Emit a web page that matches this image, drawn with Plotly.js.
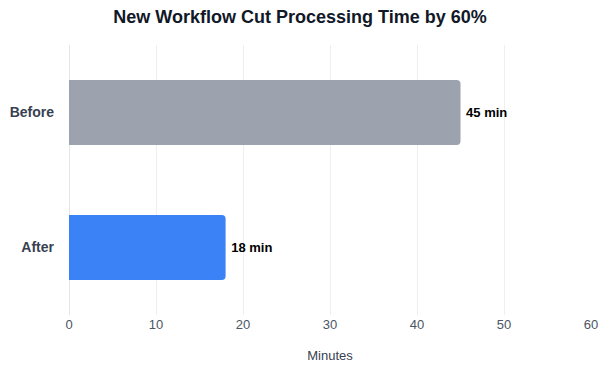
<!DOCTYPE html>
<html>
<head>
<meta charset="utf-8">
<script src="https://cdn.plot.ly/plotly-3.0.1.min.js"></script>
<style>html,body{margin:0;padding:0;background:#fff;}#chart{width:600px;height:380px;}</style>
</head>
<body>
<div id="chart"></div>
<script>
const categories = ["Before", "After"];
const minutes = [45, 18];
const labels = ["45 min", "18 min"];
const colors = ["#9CA3AF", "#3B82F6"];
const xTicks = [0, 10, 20, 30, 40, 50, 60];

const trace = {
  type: "bar",
  orientation: "h",
  y: categories,
  x: minutes,
  text: labels.map(t => "\u2009" + t),
  textposition: "outside",
  cliponaxis: false,
  textfont: {family: "Liberation Sans, Arial, sans-serif", size: 13, color: "#000000", weight: "bold"},
  marker: {color: colors},
  hoverinfo: "skip"
};

const layout = {
  width: 600,
  height: 380,
  margin: {l: 69, r: 9, t: 45, b: 65},
  paper_bgcolor: "#ffffff",
  plot_bgcolor: "#ffffff",
  bargap: 0.52,
  barcornerradius: 4,
  showlegend: false,
  font: {family: "Liberation Sans, Arial, sans-serif"},
  title: {
    text: "New Workflow Cut Processing Time by 60%",
    x: 0.5, xanchor: "center", y: 0.955, yanchor: "middle",
    font: {size: 18, color: "#111827", weight: "bold"}
  },
  xaxis: {
    range: [0, 60],
    tickvals: xTicks,
    showgrid: true,
    gridcolor: "#eeeeee",
    zeroline: true,
    zerolinecolor: "#e5e5e5",
    showline: false,
    ticks: "",
    tickfont: {size: 13, color: "#4b5563"},
    title: {text: "Minutes", font: {size: 13, color: "#374151"}, standoff: 19},
    fixedrange: true
  },
  yaxis: {
    categoryorder: "array",
    categoryarray: categories,
    autorange: "reversed",
    showgrid: false,
    zeroline: false,
    ticks: "",
    ticklabelstandoff: 14,
    tickfont: {size: 14, color: "#374151", weight: "bold"},
    fixedrange: true
  }
};

Plotly.newPlot("chart", [trace], layout, {displayModeBar: false, staticPlot: true});
</script>
</body>
</html>
